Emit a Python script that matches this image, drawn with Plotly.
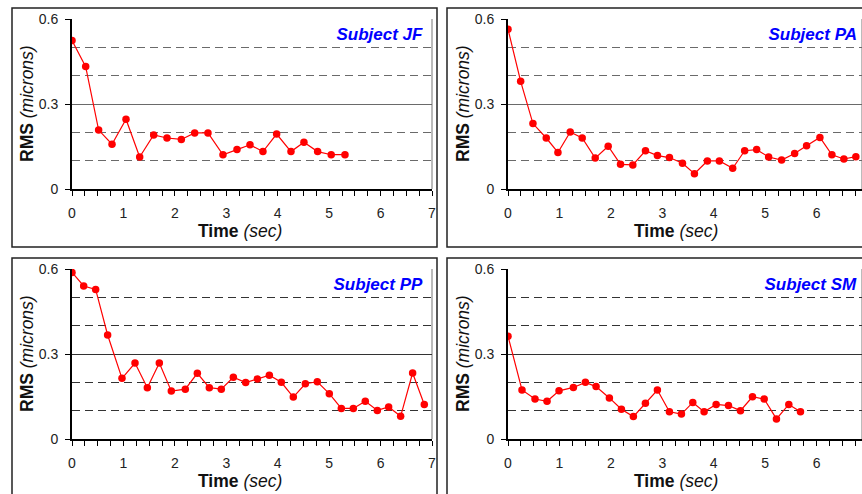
import plotly.graph_objects as go

# ---------------- data ----------------
subjects = ["Subject JF", "Subject PA", "Subject PP", "Subject SM"]

jf_t = [0, 0.266, 0.518, 0.778, 1.05, 1.316, 1.588, 1.847, 2.126, 2.385, 2.644,
        2.936, 3.208, 3.461, 3.713, 3.979, 4.258, 4.51, 4.776, 5.04, 5.308]
jf_rms = [0.524, 0.432, 0.208, 0.158, 0.246, 0.113, 0.191, 0.180, 0.175, 0.198, 0.198,
          0.121, 0.139, 0.156, 0.132, 0.194, 0.132, 0.165, 0.132, 0.121, 0.121]

pa_t = [0, 0.246, 0.485, 0.744, 0.971, 1.21, 1.443, 1.696, 1.948, 2.188, 2.427,
        2.673, 2.906, 3.139, 3.392, 3.625, 3.877, 4.11, 4.369, 4.602, 4.835,
        5.068, 5.32, 5.573, 5.806, 6.065, 6.298, 6.531, 6.764]
pa_rms = [0.564, 0.380, 0.231, 0.180, 0.129, 0.201, 0.180, 0.109, 0.151, 0.087, 0.085,
          0.135, 0.118, 0.111, 0.091, 0.054, 0.099, 0.099, 0.073, 0.135, 0.139,
          0.113, 0.102, 0.125, 0.153, 0.182, 0.121, 0.106, 0.114]

pp_t = [0, 0.227, 0.46, 0.693, 0.972, 1.225, 1.465, 1.698, 1.931, 2.203, 2.437,
        2.67, 2.903, 3.137, 3.377, 3.603, 3.837, 4.07, 4.303, 4.537, 4.77,
        5.003, 5.237, 5.47, 5.703, 5.937, 6.157, 6.39, 6.623, 6.85]
pp_rms = [0.588, 0.540, 0.528, 0.367, 0.214, 0.268, 0.181, 0.268, 0.169, 0.176, 0.232,
          0.181, 0.176, 0.218, 0.199, 0.212, 0.225, 0.200, 0.148, 0.195, 0.202,
          0.160, 0.108, 0.108, 0.133, 0.101, 0.113, 0.080, 0.233, 0.122]

sm_t = [0, 0.272, 0.525, 0.759, 0.992, 1.271, 1.505, 1.712, 1.971, 2.205, 2.438,
        2.672, 2.905, 3.139, 3.372, 3.593, 3.813, 4.047, 4.287, 4.52, 4.754,
        4.981, 5.22, 5.46, 5.687]
sm_rms = [0.363, 0.173, 0.141, 0.133, 0.170, 0.182, 0.200, 0.185, 0.145, 0.105, 0.079,
          0.126, 0.173, 0.096, 0.088, 0.129, 0.096, 0.122, 0.118, 0.100, 0.149,
          0.141, 0.071, 0.122, 0.096]

y_ticks = [0, 0.3, 0.6]
x_ticks = [0, 1, 2, 3, 4, 5, 6, 7]

# ---------------- layout helpers ----------------
W, H = 862, 494
def px(x):
    return x / W
def py(y):
    return 1 - y / H

FONT = "Arial, Liberation Sans, sans-serif"
series = [(jf_t, jf_rms), (pa_t, pa_rms), (pp_t, pp_rms), (sm_t, sm_rms)]

unit = 360 / 7.0
panels = [
    dict(x0=72, x1=432, yt=19, yb=189, box=(12, 8, 437, 247), lab=(322, 35), rms=(27, 104), time=(240, 231), grid="#6a6a6a"),
    dict(x0=508, x1=862, yt=19, yb=189, box=(447, 8, 875, 247), lab=(756, 35), rms=(463, 104), time=(676, 231), grid="#6a6a6a"),
    dict(x0=72, x1=432, yt=269, yb=439, box=(12, 258, 437, 505), lab=(322, 284), rms=(27, 354), time=(240, 481), grid="#333333"),
    dict(x0=508, x1=862, yt=269, yb=439, box=(447, 258, 875, 505), lab=(756, 284), rms=(463, 354), time=(676, 481), grid="#333333"),
]

fig = go.Figure()
shapes = []
annotations = []

for i, (p, (t, r), name) in enumerate(zip(panels, series, subjects)):
    n = "" if i == 0 else str(i + 1)
    xa, ya = "x" + n, "y" + n
    fig.add_trace(go.Scatter(
        x=t, y=r, xaxis=xa, yaxis=ya, mode="lines+markers",
        line=dict(color="#ff0000", width=1.2),
        marker=dict(color="#ff0000", size=7.5),
        showlegend=False, hoverinfo="x+y"))

    xmax = (p["x1"] - p["x0"]) / unit
    fig.layout["xaxis" + n] = dict(
        domain=[px(p["x0"]), px(p["x1"])], anchor=ya, range=[0, xmax],
        tickvals=x_ticks, ticks="outside", ticklen=5, tickwidth=1.3, tickcolor="#000",
        showline=True, linecolor="#000", linewidth=2, showgrid=False, zeroline=False,
        minor=dict(dtick=0.25, tick0=0, ticks="outside", ticklen=5, tickwidth=1.3, tickcolor="#000", showgrid=False),
        tickfont=dict(family=FONT, size=14, color="#222"), ticklabelstandoff=5,
        automargin=False, fixedrange=True)
    fig.layout["yaxis" + n] = dict(
        domain=[py(p["yb"]), py(p["yt"])], anchor=xa, range=[0, 0.6],
        tickvals=y_ticks, ticktext=["0", "0.3", "0.6"], ticks="outside", ticklen=5, tickwidth=1.3, tickcolor="#000",
        showline=True, linecolor="#000", linewidth=2, zeroline=False,
        showgrid=True, gridcolor=p["grid"], gridwidth=1,
        minor=dict(dtick=0.1, tick0=0, showgrid=True, gridcolor=p["grid"], gridwidth=1.4,
                   griddash="8px,5px", ticks=""),
        tickfont=dict(family=FONT, size=14, color="#222"), ticklabelstandoff=4,
        automargin=False, fixedrange=True)

    shapes.append(dict(type="line", xref=xa + " domain", yref=ya + " domain",
                       x0=1, x1=1, y0=0, y1=1, line=dict(color="#777", width=1), layer="below"))
    bx0, by0, bx1, by1 = p["box"]
    shapes.append(dict(type="rect", xref="paper", yref="paper",
                       x0=px(bx0), x1=px(bx1), y0=py(by1), y1=py(by0),
                       line=dict(color="#222", width=1.5), fillcolor="rgba(0,0,0,0)"))

    annotations.append(dict(
        xref="paper", yref="paper", x=px(p["lab"][0]), y=py(p["lab"][1]),
        xanchor="left", yanchor="middle", showarrow=False,
        text="<b><i>" + name + "</i></b>", align="right", width=99,
        bgcolor="#ffffff", borderpad=1,
        font=dict(family=FONT, size=17, color="#0000ff")))
    annotations.append(dict(
        xref="paper", yref="paper", x=px(p["rms"][0]), y=py(p["rms"][1]),
        xanchor="center", yanchor="middle", showarrow=False, textangle=-90,
        text="<b>RMS</b> <i>(microns)</i>",
        font=dict(family=FONT, size=17.5, color="#111")))
    annotations.append(dict(
        xref="paper", yref="paper", x=px(p["time"][0]), y=py(p["time"][1]),
        xanchor="center", yanchor="middle", showarrow=False,
        text="<b>Time</b> <i>(sec)</i>",
        font=dict(family=FONT, size=17.5, color="#111")))

fig.update_layout(
    width=W, height=H, margin=dict(l=0, r=0, t=0, b=0, pad=0, autoexpand=False),
    paper_bgcolor="#ffffff", plot_bgcolor="#ffffff",
    shapes=shapes, annotations=annotations,
    font=dict(family=FONT),
)

post = (
    "document.documentElement.style.margin='0';"
    "document.documentElement.style.overflow='hidden';"
    "document.body.style.margin='0';document.body.style.padding='0';"
    "document.body.style.overflow='hidden';"
    "var d=document.getElementById('{plot_id}');"
    "d.style.position='fixed';d.style.left='0px';d.style.top='0px';"
)
fig.write_html("out.html", config={"displayModeBar": False}, post_script=post)
